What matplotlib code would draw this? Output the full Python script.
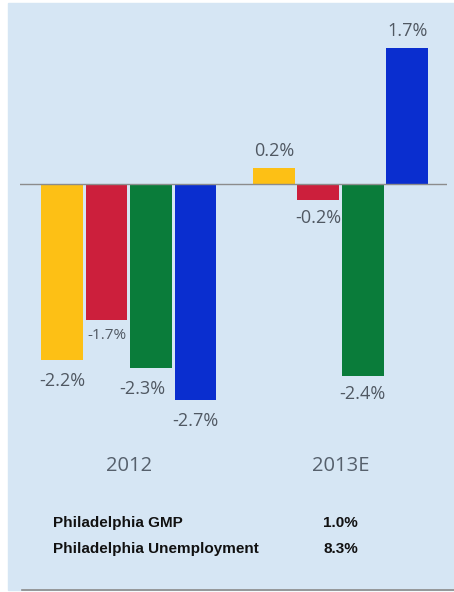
import numpy as np
import matplotlib.pyplot as plt
from matplotlib.patches import Rectangle

# growth by indicator, 2012 actual vs 2013 estimate
years = ['2012', '2013E']
colors = ['#fdc015', '#cc1f3c', '#0a7c3a', '#0a2ecf']
vals_2012 = [-2.2, -1.7, -2.3, -2.7]
vals_2013 = [0.2, -0.2, -2.4, 1.7]
labels_2012 = ['-2.2%', '-1.7%', '-2.3%', '-2.7%']
labels_2013 = ['0.2%', '-0.2%', '-2.4%', '1.7%']

table_names = ['Philadelphia GMP', 'Philadelphia Unemployment']
table_vals = ['1.0%', '8.3%']

W, H = 454, 592
fig = plt.figure(figsize=(W / 100, H / 100), dpi=100, facecolor='white')

def fx(px):
    return px / W

def fy(py):
    return 1 - py / H

bg = '#d6e6f4'
fig.patches.append(Rectangle((fx(8), fy(590)), fx(446), 587 / H,
                             transform=fig.transFigure, color=bg, zorder=-10))
fig.add_artist(plt.Line2D([fx(22), fx(454)], [fy(590), fy(590)],
                          color='#8a8a8a', lw=1.2, transform=fig.transFigure))

# axes placed so that 1 unit = 80 px, zero at y=184 px
top_px, bot_px = 10, 430
ax = fig.add_axes([fx(20), fy(bot_px), fx(427), (bot_px - top_px) / H])
ax.set_facecolor('none')
ax.set_ylim(-(bot_px - 184) / 80, (184 - top_px) / 80)
ax.set_xlim((20 - 62) / 44.5, (447 - 62) / 44.5)

gap = 4.76
x1 = np.arange(4)
x2 = np.arange(4) + gap
ax.bar(x1, vals_2012, width=0.94, color=colors, zorder=2)
ax.bar(x2, vals_2013, width=0.94, color=colors, zorder=2)
ax.axhline(0, color='#8c8c8c', lw=1, zorder=3)

txt = '#505862'
sizes = [13, 11, 13, 13]
dx_2012 = [0, 0, -6, 0]
for x, v, lab, s, dx in zip(x1, vals_2012, labels_2012, sizes, dx_2012):
    ax.annotate(lab, (x, v), xytext=(dx, -15 if s == 13 else -11.5), textcoords='offset points',
                ha='center', va='center', fontsize=s, color=txt,
                family='Open Sans', annotation_clip=False)
for x, v, lab in zip(x2, vals_2013, labels_2013):
    off = 12 if v > 0 else -13
    ax.annotate(lab, (x, v), xytext=(0, off), textcoords='offset points',
                ha='center', va='center', fontsize=13, color=txt,
                family='Open Sans', annotation_clip=False)

ax.set_xticks([x1.mean(), x2.mean()], years)
ax.tick_params(axis='x', length=0, pad=19, labelsize=14.5, labelcolor='#56606c')
ax.set_yticks([])
for s in ax.spines.values():
    s.set_visible(False)
for t in ax.get_xticklabels():
    t.set_family('Open Sans')

for i, (name, val) in enumerate(zip(table_names, table_vals)):
    y = fy(523 + i * 26)
    fig.text(fx(53), y, name, ha='left', va='center', fontsize=11,
             fontweight='bold', family='Liberation Sans', color='#111111')
    fig.text(fx(323), y, val, ha='left', va='center', fontsize=11,
             fontweight='bold', family='Liberation Sans', color='#111111')

fig.savefig('out.png', dpi=100, facecolor='white')
